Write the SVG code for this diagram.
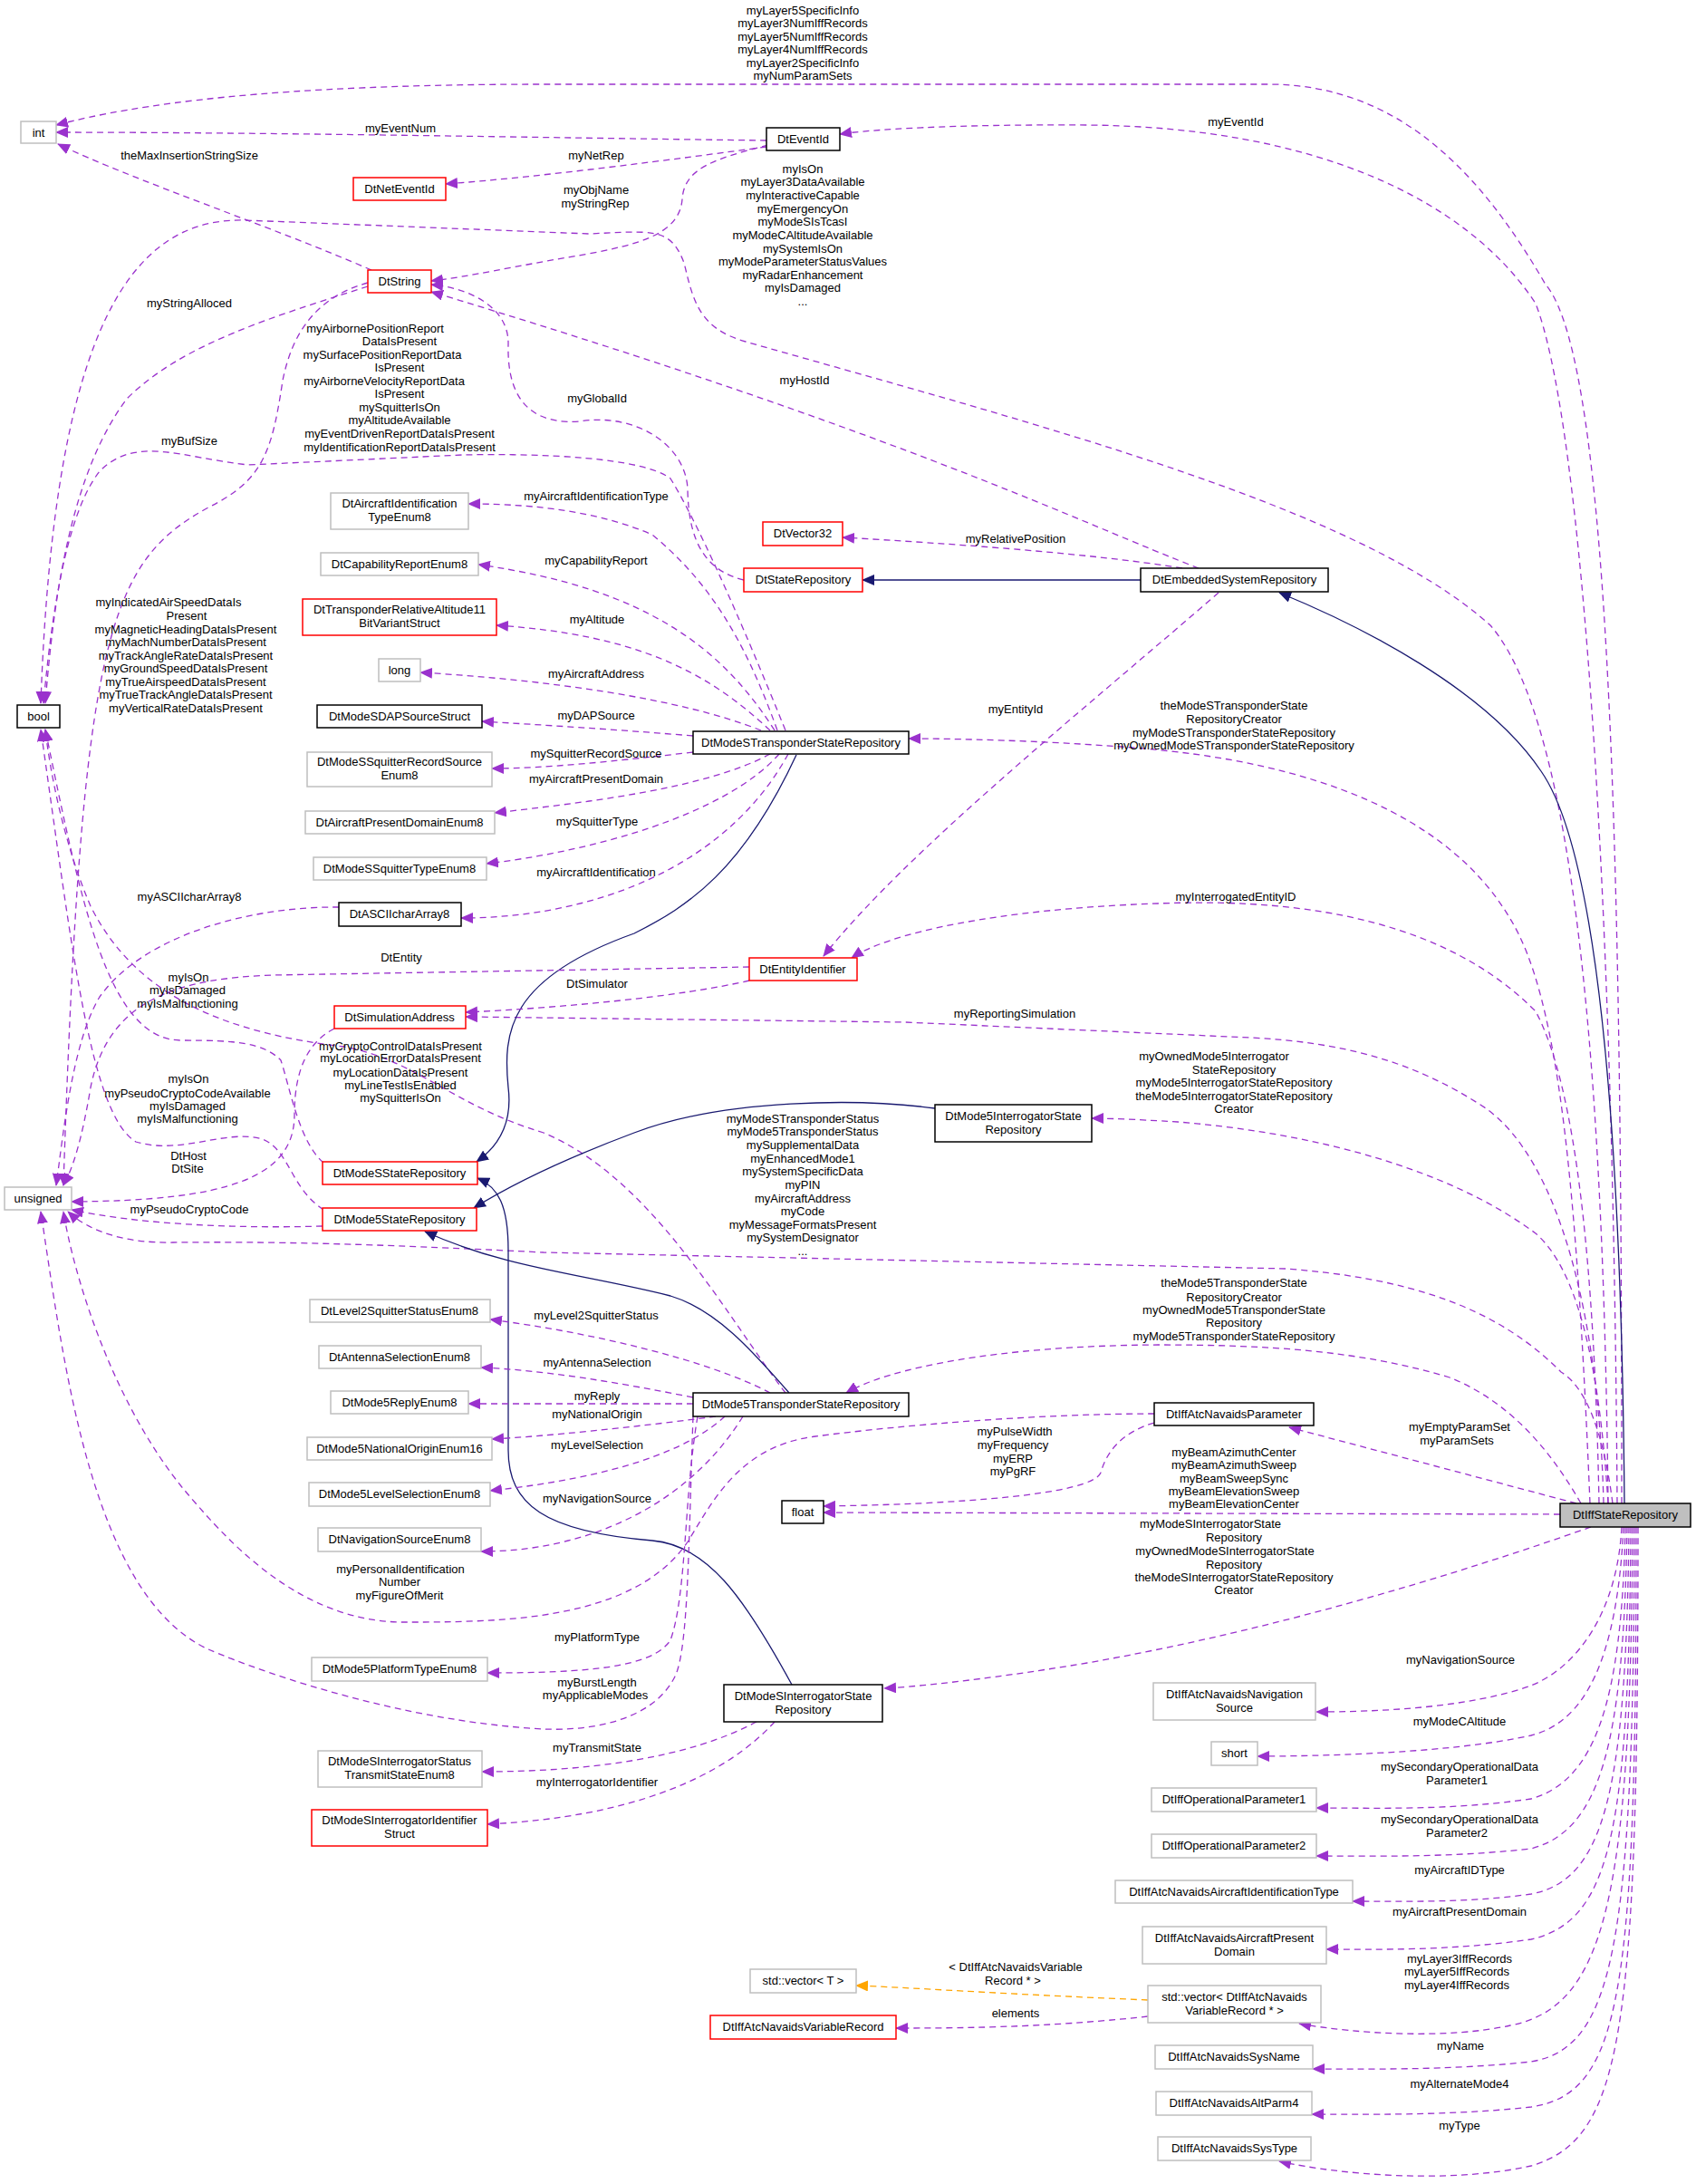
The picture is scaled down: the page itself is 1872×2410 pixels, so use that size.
<svg xmlns="http://www.w3.org/2000/svg" width="1872" height="2410" viewBox="0 0 1872 2410">
<style>
text{font-family:"Liberation Sans",Arial,sans-serif;font-size:13px;fill:#000}
.n text{text-anchor:middle}
.l{text-anchor:middle}
rect{fill:#fff;stroke-width:1.5}
.nb rect{stroke:#000}.nr rect{stroke:#f00}.ng rect{stroke:#bfbfbf}
.e{fill:none;stroke:#9a32cd;stroke-dasharray:7,5;stroke-width:1.3;marker-end:url(#ap)}
.i{fill:none;stroke:#191970;stroke-width:1.3;marker-end:url(#an)}
.o{fill:none;stroke:orange;stroke-dasharray:7,5;stroke-width:1.3;marker-end:url(#ao)}
</style>
<defs>
<marker id="ap" markerUnits="userSpaceOnUse" markerWidth="14" markerHeight="12" refX="13" refY="6" orient="auto"><path d="M0,0L14,6L0,12z" fill="#9a32cd"/></marker>
<marker id="an" markerUnits="userSpaceOnUse" markerWidth="14" markerHeight="12" refX="13" refY="6" orient="auto"><path d="M0,0L14,6L0,12z" fill="#191970"/></marker>
<marker id="ao" markerUnits="userSpaceOnUse" markerWidth="14" markerHeight="12" refX="13" refY="6" orient="auto"><path d="M0,0L14,6L0,12z" fill="orange"/></marker>
</defs>
<rect x="0" y="0" width="1872" height="2410" style="fill:#fff;stroke:none"/>
<g id="connectors">
<path class="e" d="M1790,1659 C1790,1000 1780,400 1706,314 C1640,200 1550,93 1400,93 L600,93 C300,93 150,115 62,138"/>
<path class="e" d="M1785,1659 C1780,900 1740,450 1695,335 C1620,220 1450,140 1200,138 C1050,137 960,143 927,148"/>
<path class="e" d="M1775,1659 C1770,1200 1740,800 1645,690 C1500,560 1150,470 823,377 C770,362 765,330 755,290 C740,250 720,255 650,258 L270,243 C150,240 60,350 45,776"/>
<path class="e" d="M1323,627 C1200,580 1000,480 476,322"/>
<path class="e" d="M1755,1659 C1740,1300 1720,1100 1667,1014 C1600,900 1450,840 1250,825 C1150,817 1050,815 1003,815"/>
<path class="e" d="M1765,1659 C1760,1400 1740,1200 1695,1116 C1600,1020 1450,990 1278,997 C1100,1003 980,1030 940,1057"/>
<path class="e" d="M1770,1659 C1765,1450 1720,1280 1640,1223 C1560,1170 1480,1150 1380,1145 L1000,1128 L514,1122"/>
<path class="e" d="M1775,1659 C1765,1500 1740,1400 1695,1361 C1600,1290 1450,1250 1300,1238 C1250,1235 1220,1234 1205,1234"/>
<path class="e" d="M1780,1659 C1770,1580 1750,1530 1723,1514 C1650,1440 1550,1410 1420,1400 L600,1382 C400,1372 300,1370 191,1371 C140,1372 100,1360 75,1337"/>
<path class="e" d="M1745,1659 C1700,1580 1650,1540 1600,1520 C1500,1490 1400,1484 1278,1484 C1100,1485 980,1510 934,1537"/>
<path class="e" d="M1740,1659 L1423,1575"/>
<path class="e" d="M1722,1671 L909,1669"/>
<path class="e" d="M1756,1685 C1600,1740 1400,1800 1200,1835 C1080,1855 1000,1862 976,1863"/>
<path class="e" d="M1790,1685 C1785,1780 1740,1840 1690,1860 C1620,1885 1520,1889 1453,1889"/>
<path class="e" d="M1792,1685 C1785,1830 1750,1900 1690,1915 C1600,1935 1450,1938 1388,1938"/>
<path class="e" d="M1794,1685 C1790,1880 1760,1965 1690,1985 C1600,1998 1520,1995 1453,1995"/>
<path class="e" d="M1796,1685 C1792,1930 1765,2020 1690,2040 C1600,2050 1520,2048 1453,2048"/>
<path class="e" d="M1798,1685 C1795,1980 1770,2075 1690,2090 C1620,2100 1550,2098 1493,2098"/>
<path class="e" d="M1800,1685 C1798,2030 1775,2120 1690,2140 C1600,2153 1520,2151 1464,2151"/>
<path class="e" d="M1802,1685 C1800,2100 1770,2215 1667,2235 C1600,2250 1500,2245 1434,2233"/>
<path class="e" d="M1804,1685 C1803,2150 1780,2260 1690,2275 C1600,2285 1500,2283 1449,2283"/>
<path class="e" d="M1806,1685 C1806,2200 1790,2310 1690,2325 C1600,2335 1500,2333 1448,2333"/>
<path class="e" d="M1808,1685 C1808,2250 1790,2360 1690,2390 C1600,2410 1480,2400 1412,2385"/>
<path class="i" d="M1793,1659 C1790,1300 1770,950 1701,851 C1640,760 1500,690 1412,654"/>
<path class="e" d="M846,155 C600,152 300,146 62,146"/>
<path class="e" d="M846,162 C750,175 600,195 492,203"/>
<path class="e" d="M848,160 C790,175 755,185 753,220 C750,260 700,270 650,280 C560,295 520,305 476,310"/>
<path class="e" d="M410,298 C300,250 150,200 64,159"/>
<path class="e" d="M406,316 C300,350 200,380 140,440 C80,520 60,650 50,776"/>
<path class="e" d="M406,312 C340,330 320,380 312,420 C300,500 290,530 230,560 C120,620 90,700 70,1308"/>
<path class="e" d="M867,806 C800,640 760,560 740,528 C710,505 600,500 510,502 L274,513 C200,505 150,480 110,520 C70,570 55,700 48,776"/>
<path class="e" d="M821,640 C780,630 760,600 759,540 C757,490 700,455 640,465 C570,470 560,420 561,380 C562,340 520,318 476,314"/>
<path class="e" d="M858,806 C820,700 780,640 720,590 C650,560 570,556 517,556"/>
<path class="e" d="M855,806 C800,720 720,650 528,623"/>
<path class="e" d="M850,806 C780,740 700,700 548,690"/>
<path class="e" d="M840,806 C750,770 600,750 464,742"/>
<path class="e" d="M765,812 C680,805 600,800 532,796"/>
<path class="e" d="M765,830 C680,840 600,848 543,848"/>
<path class="e" d="M850,832 C780,870 650,885 546,897"/>
<path class="e" d="M860,832 C800,900 650,940 537,953"/>
<path class="e" d="M870,832 C800,960 650,1013 509,1013"/>
<path class="i" d="M879,833 C820,960 760,1000 700,1030 C560,1080 555,1140 561,1200 C566,1240 550,1265 526,1282"/>
<path class="e" d="M374,1001 C280,1000 160,1030 110,1100 C80,1150 70,1250 62,1308"/>
<path class="e" d="M827,1067 L300,1076 C200,1080 120,1100 100,1200 C90,1260 80,1290 70,1308"/>
<path class="e" d="M827,1082 C750,1100 620,1112 514,1117"/>
<path class="e" d="M1345,654 C1200,780 1000,940 909,1055"/>
<path class="e" d="M1305,627 C1200,610 1050,600 930,593"/>
<path class="i" d="M1259,640 L952,640"/>
<path class="e" d="M357,1283 C330,1260 320,1200 310,1170 C290,1150 260,1148 200,1148 C120,1148 90,1000 50,805"/>
<path class="e" d="M357,1335 C320,1310 320,1270 290,1257 C250,1245 200,1275 150,1260 C100,1230 80,1050 45,805"/>
<path class="e" d="M867,1537 C800,1450 720,1300 600,1250 C500,1220 460,1170 380,1155 C250,1140 150,1100 100,1000 C70,930 55,850 50,805"/>
<path class="e" d="M369,1135 C340,1150 325,1180 325,1230 C325,1300 250,1325 79,1326"/>
<path class="e" d="M356,1353 C250,1356 150,1350 79,1335"/>
<path class="i" d="M1032,1223 C950,1212 800,1212 700,1250 C620,1280 560,1310 523,1333"/>
<path class="i" d="M874,1859 C820,1760 780,1705 720,1700 C600,1690 561,1660 561,1600 L561,1380 C561,1330 550,1310 527,1300"/>
<path class="i" d="M871,1537 C830,1490 790,1445 740,1430 C640,1405 560,1400 469,1359"/>
<path class="e" d="M850,1537 C780,1500 650,1470 541,1456"/>
<path class="e" d="M765,1542 C680,1525 600,1512 531,1509"/>
<path class="e" d="M765,1549 L517,1549"/>
<path class="e" d="M790,1563 C700,1575 600,1585 543,1588"/>
<path class="e" d="M800,1563 C760,1600 680,1630 541,1645"/>
<path class="e" d="M820,1563 C760,1660 650,1712 531,1712"/>
<path class="e" d="M1274,1560 C1150,1560 1000,1572 900,1585 C820,1595 790,1650 760,1700 C700,1790 550,1790 446,1790 C330,1790 250,1700 200,1640 C120,1540 80,1400 70,1337"/>
<path class="e" d="M770,1563 C755,1650 758,1760 740,1810 C720,1840 650,1846 538,1846"/>
<path class="e" d="M765,1563 C760,1700 760,1820 745,1850 C720,1900 650,1910 600,1908 C450,1900 300,1850 230,1820 C100,1760 70,1500 45,1337"/>
<path class="e" d="M1274,1570 C1240,1580 1222,1600 1215,1625 C1205,1650 1050,1660 909,1662"/>
<path class="o" d="M1267,2207 C1100,2200 1000,2193 945,2191"/>
<path class="e" d="M1267,2225 C1150,2238 1050,2238 989,2238"/>
<path class="e" d="M835,1900 C760,1940 650,1955 532,1955"/>
<path class="e" d="M855,1900 C800,1960 700,2005 538,2013"/>
</g>
<g id="edge-labels">
<text class="l" x="886" y="16">myLayer5SpecificInfo</text><text class="l" x="886" y="30">myLayer3NumIffRecords</text><text class="l" x="886" y="45">myLayer5NumIffRecords</text><text class="l" x="886" y="59">myLayer4NumIffRecords</text><text class="l" x="886" y="74">myLayer2SpecificInfo</text><text class="l" x="886" y="88">myNumParamSets</text>
<text class="l" x="1364" y="139">myEventId</text>
<text class="l" x="886" y="191">myIsOn</text><text class="l" x="886" y="205">myLayer3DataAvailable</text><text class="l" x="886" y="220">myInteractiveCapable</text><text class="l" x="886" y="235">myEmergencyOn</text><text class="l" x="886" y="249">myModeSIsTcasI</text><text class="l" x="886" y="264">myModeCAltitudeAvailable</text><text class="l" x="886" y="279">mySystemIsOn</text><text class="l" x="886" y="293">myModeParameterStatusValues</text><text class="l" x="886" y="308">myRadarEnhancement</text><text class="l" x="886" y="322">myIsDamaged</text><text class="l" x="886" y="337">...</text>
<text class="l" x="888" y="424">myHostId</text>
<text class="l" x="442" y="146">myEventNum</text>
<text class="l" x="658" y="176">myNetRep</text>
<text class="l" x="658" y="214">myObjName</text><text class="l" x="657" y="229">myStringRep</text>
<text class="l" x="209" y="176">theMaxInsertionStringSize</text>
<text class="l" x="209" y="339">myStringAlloced</text>
<text class="l" x="209" y="491">myBufSize</text>
<text class="l" x="414" y="367">myAirbornePositionReport</text><text class="l" x="441" y="381">DataIsPresent</text><text class="l" x="422" y="396">mySurfacePositionReportData</text><text class="l" x="441" y="410">IsPresent</text><text class="l" x="424" y="425">myAirborneVelocityReportData</text><text class="l" x="441" y="439">IsPresent</text><text class="l" x="441" y="454">mySquitterIsOn</text><text class="l" x="441" y="468">myAltitudeAvailable</text><text class="l" x="441" y="483">myEventDrivenReportDataIsPresent</text><text class="l" x="441" y="498">myIdentificationReportDataIsPresent</text>
<text class="l" x="659" y="444">myGlobalId</text>
<text class="l" x="658" y="552">myAircraftIdentificationType</text>
<text class="l" x="658" y="623">myCapabilityReport</text>
<text class="l" x="659" y="688">myAltitude</text>
<text class="l" x="658" y="748">myAircraftAddress</text>
<text class="l" x="658" y="794">myDAPSource</text>
<text class="l" x="186" y="669">myIndicatedAirSpeedDataIs</text><text class="l" x="206" y="684">Present</text><text class="l" x="205" y="699">myMagneticHeadingDataIsPresent</text><text class="l" x="205" y="713">myMachNumberDataIsPresent</text><text class="l" x="205" y="728">myTrackAngleRateDataIsPresent</text><text class="l" x="205" y="742">myGroundSpeedDataIsPresent</text><text class="l" x="205" y="757">myTrueAirspeedDataIsPresent</text><text class="l" x="205" y="771">myTrueTrackAngleDataIsPresent</text><text class="l" x="205" y="786">myVerticalRateDataIsPresent</text>
<text class="l" x="658" y="836">mySquitterRecordSource</text>
<text class="l" x="658" y="864">myAircraftPresentDomain</text>
<text class="l" x="659" y="911">mySquitterType</text>
<text class="l" x="658" y="967">myAircraftIdentification</text>
<text class="l" x="209" y="994">myASCIIcharArray8</text>
<text class="l" x="443" y="1061">DtEntity</text>
<text class="l" x="659" y="1090">DtSimulator</text>
<text class="l" x="1121" y="787">myEntityId</text>
<text class="l" x="1121" y="599">myRelativePosition</text>
<text class="l" x="1362" y="783">theModeSTransponderState</text><text class="l" x="1362" y="798">RepositoryCreator</text><text class="l" x="1362" y="813">myModeSTransponderStateRepository</text><text class="l" x="1362" y="827">myOwnedModeSTransponderStateRepository</text>
<text class="l" x="1364" y="994">myInterrogatedEntityID</text>
<text class="l" x="1120" y="1123">myReportingSimulation</text>
<text class="l" x="1340" y="1170">myOwnedMode5Interrogator</text><text class="l" x="1362" y="1185">StateRepository</text><text class="l" x="1362" y="1199">myMode5InterrogatorStateRepository</text><text class="l" x="1362" y="1214">theMode5InterrogatorStateRepository</text><text class="l" x="1362" y="1228">Creator</text>
<text class="l" x="208" y="1083">myIsOn</text><text class="l" x="207" y="1097">myIsDamaged</text><text class="l" x="207" y="1112">myIsMalfunctioning</text>
<text class="l" x="442" y="1159">myCryptoControlDataIsPresent</text><text class="l" x="442" y="1172">myLocationErrorDataIsPresent</text><text class="l" x="442" y="1188">myLocationDataIsPresent</text><text class="l" x="442" y="1202">myLineTestIsEnabled</text><text class="l" x="442" y="1216">mySquitterIsOn</text>
<text class="l" x="208" y="1195">myIsOn</text><text class="l" x="207" y="1211">myPseudoCryptoCodeAvailable</text><text class="l" x="207" y="1225">myIsDamaged</text><text class="l" x="207" y="1239">myIsMalfunctioning</text>
<text class="l" x="208" y="1280">DtHost</text><text class="l" x="207" y="1294">DtSite</text>
<text class="l" x="209" y="1339">myPseudoCryptoCode</text>
<text class="l" x="886" y="1239">myModeSTransponderStatus</text><text class="l" x="886" y="1253">myMode5TransponderStatus</text><text class="l" x="886" y="1268">mySupplementalData</text><text class="l" x="886" y="1283">myEnhancedMode1</text><text class="l" x="886" y="1297">mySystemSpecificData</text><text class="l" x="886" y="1312">myPIN</text><text class="l" x="886" y="1327">myAircraftAddress</text><text class="l" x="886" y="1341">myCode</text><text class="l" x="886" y="1356">myMessageFormatsPresent</text><text class="l" x="886" y="1370">mySystemDesignator</text><text class="l" x="886" y="1385">...</text>
<text class="l" x="1362" y="1420">theMode5TransponderState</text><text class="l" x="1362" y="1436">RepositoryCreator</text><text class="l" x="1362" y="1450">myOwnedMode5TransponderState</text><text class="l" x="1362" y="1464">Repository</text><text class="l" x="1362" y="1479">myMode5TransponderStateRepository</text>
<text class="l" x="658" y="1456">myLevel2SquitterStatus</text>
<text class="l" x="659" y="1508">myAntennaSelection</text>
<text class="l" x="659" y="1545">myReply</text>
<text class="l" x="659" y="1565">myNationalOrigin</text>
<text class="l" x="659" y="1599">myLevelSelection</text>
<text class="l" x="659" y="1658">myNavigationSource</text>
<text class="l" x="442" y="1736">myPersonalIdentification</text><text class="l" x="441" y="1750">Number</text><text class="l" x="441" y="1765">myFigureOfMerit</text>
<text class="l" x="659" y="1811">myPlatformType</text>
<text class="l" x="659" y="1861">myBurstLength</text><text class="l" x="657" y="1875">myApplicableModes</text>
<text class="l" x="659" y="1933">myTransmitState</text>
<text class="l" x="659" y="1971">myInterrogatorIdentifier</text>
<text class="l" x="1611" y="1579">myEmptyParamSet</text><text class="l" x="1608" y="1594">myParamSets</text>
<text class="l" x="1120" y="1584">myPulseWidth</text><text class="l" x="1118" y="1599">myFrequency</text><text class="l" x="1118" y="1614">myERP</text><text class="l" x="1118" y="1628">myPgRF</text>
<text class="l" x="1362" y="1607">myBeamAzimuthCenter</text><text class="l" x="1362" y="1621">myBeamAzimuthSweep</text><text class="l" x="1362" y="1636">myBeamSweepSync</text><text class="l" x="1362" y="1650">myBeamElevationSweep</text><text class="l" x="1362" y="1664">myBeamElevationCenter</text>
<text class="l" x="1336" y="1686">myModeSInterrogatorState</text><text class="l" x="1362" y="1701">Repository</text><text class="l" x="1352" y="1716">myOwnedModeSInterrogatorState</text><text class="l" x="1362" y="1731">Repository</text><text class="l" x="1362" y="1745">theModeSInterrogatorStateRepository</text><text class="l" x="1362" y="1759">Creator</text>
<text class="l" x="1612" y="1836">myNavigationSource</text>
<text class="l" x="1611" y="1904">myModeCAltitude</text>
<text class="l" x="1611" y="1954">mySecondaryOperationalData</text><text class="l" x="1608" y="1969">Parameter1</text>
<text class="l" x="1611" y="2012">mySecondaryOperationalData</text><text class="l" x="1608" y="2027">Parameter2</text>
<text class="l" x="1611" y="2068">myAircraftIDType</text>
<text class="l" x="1611" y="2114">myAircraftPresentDomain</text>
<text class="l" x="1611" y="2166">myLayer3IffRecords</text><text class="l" x="1608" y="2180">myLayer5IffRecords</text><text class="l" x="1608" y="2195">myLayer4IffRecords</text>
<text class="l" x="1612" y="2262">myName</text>
<text class="l" x="1611" y="2304">myAlternateMode4</text>
<text class="l" x="1611" y="2350">myType</text>
<text class="l" x="1121" y="2175">&lt; DtIffAtcNavaidsVariable</text><text class="l" x="1118" y="2190">Record * &gt;</text>
<text class="l" x="1121" y="2226">elements</text>
</g>
<g id="n_int" class="n ng"><rect x="23" y="134" width="39" height="24"/><text x="42.5" y="150.5">int</text></g>
<g id="n_DtEventId" class="n nb"><rect x="846" y="141" width="81" height="25"/><text x="886.5" y="158">DtEventId</text></g>
<g id="n_DtNetEventId" class="n nr"><rect x="390" y="196" width="102" height="25"/><text x="441" y="213">DtNetEventId</text></g>
<g id="n_DtString" class="n nr"><rect x="406" y="298" width="70" height="25"/><text x="441" y="315">DtString</text></g>
<g id="n_DtAircraftIdentificationTypeEnum8" class="n ng"><rect x="365" y="544" width="152" height="40"/><text x="441" y="560">DtAircraftIdentification</text><text x="441" y="575">TypeEnum8</text></g>
<g id="n_DtCapabilityReportEnum8" class="n ng"><rect x="354" y="610" width="174" height="25"/><text x="441" y="627">DtCapabilityReportEnum8</text></g>
<g id="n_DtTransponderRelativeAltitude11" class="n nr"><rect x="334" y="661" width="214" height="40"/><text x="441" y="677">DtTransponderRelativeAltitude11</text><text x="441" y="692">BitVariantStruct</text></g>
<g id="n_long" class="n ng"><rect x="418" y="727" width="46" height="25"/><text x="441" y="744">long</text></g>
<g id="n_bool" class="n nb"><rect x="19" y="778" width="47" height="25"/><text x="42.5" y="795">bool</text></g>
<g id="n_DtModeSDAPSourceStruct" class="n nb"><rect x="350" y="778" width="182" height="25"/><text x="441" y="795">DtModeSDAPSourceStruct</text></g>
<g id="n_DtModeSTransponderStateRepository" class="n nb"><rect x="765" y="807" width="238" height="25"/><text x="884" y="824">DtModeSTransponderStateRepository</text></g>
<g id="n_DtModeSSquitterRecordSourceEnum8" class="n ng"><rect x="339" y="830" width="204" height="38"/><text x="441" y="845">DtModeSSquitterRecordSource</text><text x="441" y="860">Enum8</text></g>
<g id="n_DtAircraftPresentDomainEnum8" class="n ng"><rect x="337" y="895" width="209" height="25"/><text x="441" y="912">DtAircraftPresentDomainEnum8</text></g>
<g id="n_DtModeSSquitterTypeEnum8" class="n ng"><rect x="346" y="946" width="191" height="25"/><text x="441" y="963">DtModeSSquitterTypeEnum8</text></g>
<g id="n_DtASCIIcharArray8" class="n nb"><rect x="374" y="996" width="135" height="26"/><text x="441" y="1013">DtASCIIcharArray8</text></g>
<g id="n_DtEntityIdentifier" class="n nr"><rect x="827" y="1057" width="119" height="25"/><text x="886" y="1074">DtEntityIdentifier</text></g>
<g id="n_DtSimulationAddress" class="n nr"><rect x="369" y="1110" width="145" height="25"/><text x="441" y="1127">DtSimulationAddress</text></g>
<g id="n_DtModeSStateRepository" class="n nr"><rect x="356" y="1282" width="171" height="25"/><text x="441" y="1299">DtModeSStateRepository</text></g>
<g id="n_DtMode5StateRepository" class="n nr"><rect x="356" y="1333" width="170" height="25"/><text x="441" y="1350">DtMode5StateRepository</text></g>
<g id="n_unsigned" class="n ng"><rect x="5" y="1310" width="74" height="25"/><text x="42" y="1327">unsigned</text></g>
<g id="n_DtLevel2SquitterStatusEnum8" class="n ng"><rect x="342" y="1434" width="199" height="25"/><text x="441" y="1451">DtLevel2SquitterStatusEnum8</text></g>
<g id="n_DtAntennaSelectionEnum8" class="n ng"><rect x="352" y="1485" width="179" height="25"/><text x="441" y="1502">DtAntennaSelectionEnum8</text></g>
<g id="n_DtMode5ReplyEnum8" class="n ng"><rect x="365" y="1535" width="152" height="25"/><text x="441" y="1552">DtMode5ReplyEnum8</text></g>
<g id="n_DtMode5TransponderStateRepository" class="n nb"><rect x="765" y="1537" width="238" height="26"/><text x="884" y="1554">DtMode5TransponderStateRepository</text></g>
<g id="n_DtMode5NationalOriginEnum16" class="n ng"><rect x="339" y="1586" width="204" height="25"/><text x="441" y="1603">DtMode5NationalOriginEnum16</text></g>
<g id="n_DtMode5LevelSelectionEnum8" class="n ng"><rect x="341" y="1636" width="200" height="26"/><text x="441" y="1653">DtMode5LevelSelectionEnum8</text></g>
<g id="n_DtNavigationSourceEnum8" class="n ng"><rect x="351" y="1686" width="180" height="26"/><text x="441" y="1703">DtNavigationSourceEnum8</text></g>
<g id="n_float" class="n nb"><rect x="863" y="1656" width="46" height="25"/><text x="886" y="1673">float</text></g>
<g id="n_DtMode5PlatformTypeEnum8" class="n ng"><rect x="344" y="1829" width="194" height="26"/><text x="441" y="1846">DtMode5PlatformTypeEnum8</text></g>
<g id="n_DtModeSInterrogatorStateRepository" class="n nb"><rect x="799" y="1859" width="175" height="41"/><text x="886.5" y="1876">DtModeSInterrogatorState</text><text x="886.5" y="1891">Repository</text></g>
<g id="n_DtModeSInterrogatorStatusTransmitStateEnum8" class="n ng"><rect x="351" y="1932" width="181" height="40"/><text x="441" y="1948">DtModeSInterrogatorStatus</text><text x="441" y="1963">TransmitStateEnum8</text></g>
<g id="n_DtModeSInterrogatorIdentifierStruct" class="n nr"><rect x="344" y="1997" width="194" height="40"/><text x="441" y="2013">DtModeSInterrogatorIdentifier</text><text x="441" y="2028">Struct</text></g>
<g id="n_stdvectorT" class="n ng"><rect x="828" y="2173" width="117" height="26"/><text x="886.5" y="2190">std::vector&lt; T &gt;</text></g>
<g id="n_DtIffAtcNavaidsVariableRecord" class="n nr"><rect x="784" y="2224" width="205" height="26"/><text x="886.5" y="2241">DtIffAtcNavaidsVariableRecord</text></g>
<g id="n_DtVector32" class="n nr"><rect x="842" y="576" width="88" height="26"/><text x="886" y="593">DtVector32</text></g>
<g id="n_DtStateRepository" class="n nr"><rect x="821" y="627" width="131" height="26"/><text x="886.5" y="644">DtStateRepository</text></g>
<g id="n_DtEmbeddedSystemRepository" class="n nb"><rect x="1259" y="627" width="207" height="26"/><text x="1362.5" y="644">DtEmbeddedSystemRepository</text></g>
<g id="n_DtMode5InterrogatorStateRepository" class="n nb"><rect x="1032" y="1219" width="173" height="41"/><text x="1118.5" y="1236">DtMode5InterrogatorState</text><text x="1118.5" y="1251">Repository</text></g>
<g id="n_DtIffAtcNavaidsParameter" class="n nb"><rect x="1274" y="1548" width="176" height="25"/><text x="1362" y="1565">DtIffAtcNavaidsParameter</text></g>
<g id="n_DtIffStateRepository" class="n nb"><rect x="1722" y="1659" width="144" height="26" style="fill:#bfbfbf"/><text x="1794" y="1676">DtIffStateRepository</text></g>
<g id="n_DtIffAtcNavaidsNavigationSource" class="n ng"><rect x="1273" y="1857" width="179" height="41"/><text x="1362.5" y="1874">DtIffAtcNavaidsNavigation</text><text x="1362.5" y="1889">Source</text></g>
<g id="n_short" class="n ng"><rect x="1337" y="1922" width="51" height="26"/><text x="1362.5" y="1939">short</text></g>
<g id="n_DtIffOperationalParameter1" class="n ng"><rect x="1271" y="1973" width="182" height="26"/><text x="1362" y="1990">DtIffOperationalParameter1</text></g>
<g id="n_DtIffOperationalParameter2" class="n ng"><rect x="1271" y="2024" width="182" height="26"/><text x="1362" y="2041">DtIffOperationalParameter2</text></g>
<g id="n_DtIffAtcNavaidsAircraftIdentificationType" class="n ng"><rect x="1231" y="2075" width="262" height="25"/><text x="1362" y="2092">DtIffAtcNavaidsAircraftIdentificationType</text></g>
<g id="n_DtIffAtcNavaidsAircraftPresentDomain" class="n ng"><rect x="1261" y="2126" width="203" height="41"/><text x="1362.5" y="2143">DtIffAtcNavaidsAircraftPresent</text><text x="1362.5" y="2158">Domain</text></g>
<g id="n_stdvectorRecord" class="n ng"><rect x="1267" y="2191" width="191" height="41"/><text x="1362.5" y="2208">std::vector&lt; DtIffAtcNavaids</text><text x="1362.5" y="2223">VariableRecord * &gt;</text></g>
<g id="n_DtIffAtcNavaidsSysName" class="n ng"><rect x="1275" y="2257" width="174" height="26"/><text x="1362" y="2274">DtIffAtcNavaidsSysName</text></g>
<g id="n_DtIffAtcNavaidsAltParm4" class="n ng"><rect x="1276" y="2308" width="172" height="26"/><text x="1362" y="2325">DtIffAtcNavaidsAltParm4</text></g>
<g id="n_DtIffAtcNavaidsSysType" class="n ng"><rect x="1278" y="2358" width="169" height="26"/><text x="1362.5" y="2375">DtIffAtcNavaidsSysType</text></g>
</svg>
